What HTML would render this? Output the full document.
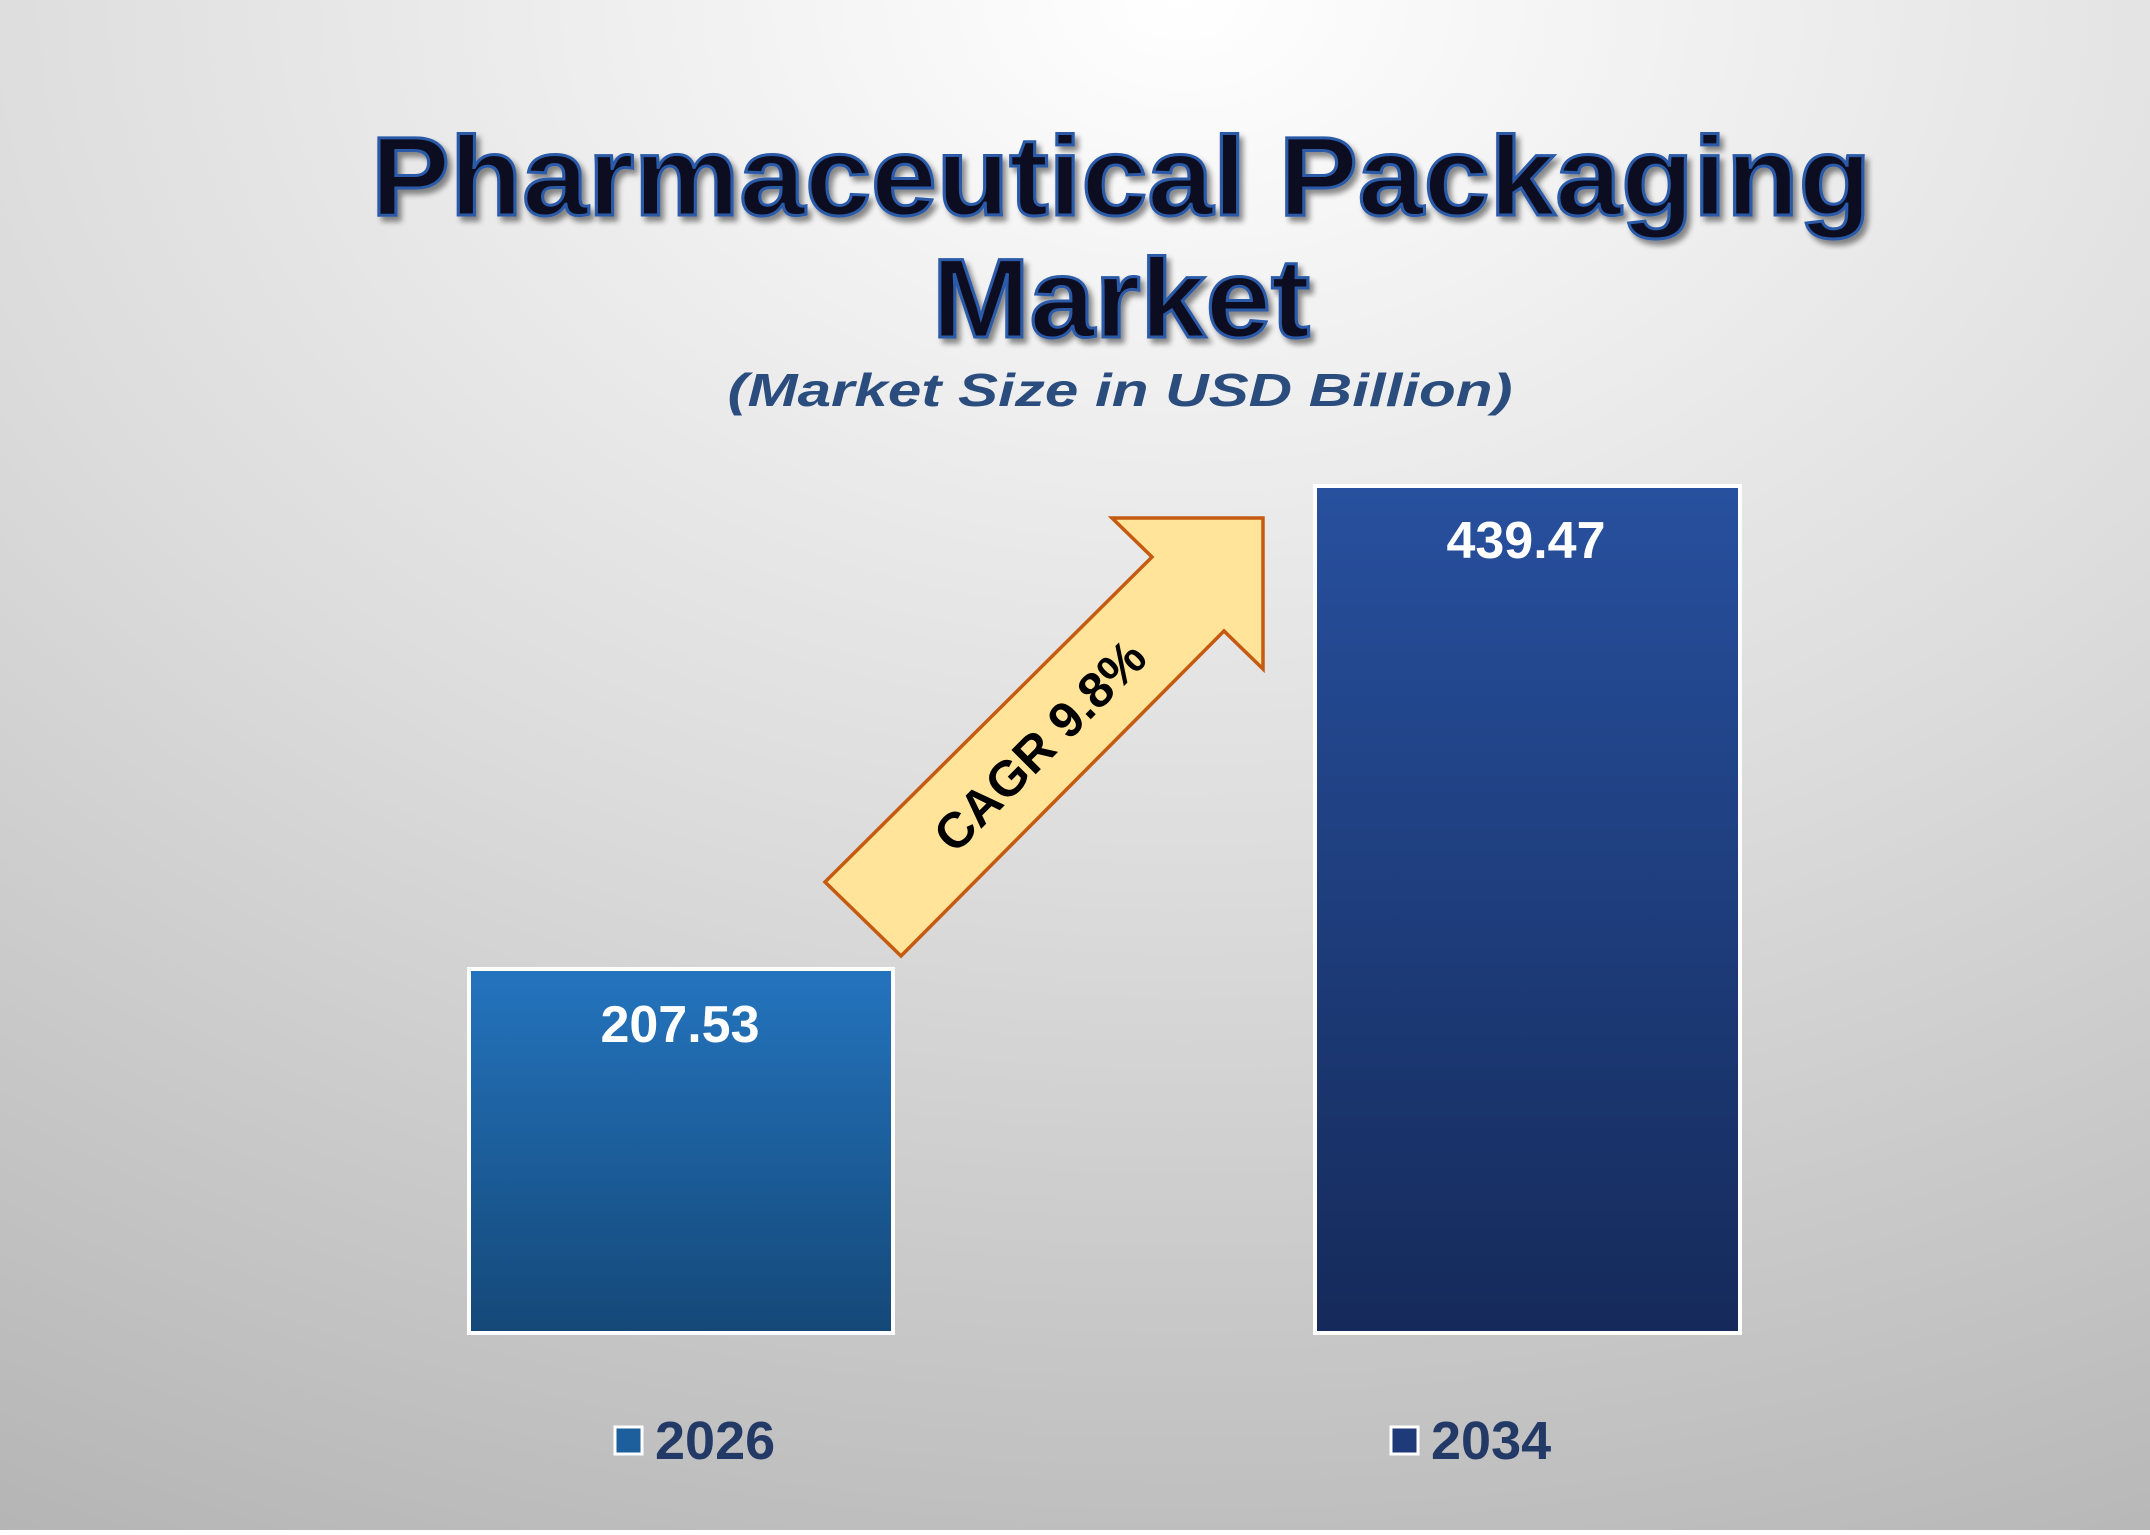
<!DOCTYPE html>
<html><head><meta charset="utf-8"><style>
html,body{margin:0;padding:0;}
body{width:2150px;height:1530px;overflow:hidden;}
</style></head><body>
<svg width="2150" height="1530" viewBox="0 0 2150 1530" xmlns="http://www.w3.org/2000/svg">
<defs>
<radialGradient id="bg" cx="0.55" cy="0" r="1.15">
<stop offset="0" stop-color="#ffffff"/>
<stop offset="0.5" stop-color="#dcdcdc"/>
<stop offset="1" stop-color="#b4b4b4"/>
</radialGradient>
<linearGradient id="b1" x1="0" y1="0" x2="0" y2="1">
<stop offset="0" stop-color="#2474be"/>
<stop offset="1" stop-color="#144878"/>
</linearGradient>
<linearGradient id="b2" x1="0" y1="0" x2="0" y2="1">
<stop offset="0" stop-color="#27509e"/>
<stop offset="1" stop-color="#152a5a"/>
</linearGradient>
<filter id="sh" x="-5%" y="-20%" width="110%" height="140%">
<feGaussianBlur in="SourceAlpha" stdDeviation="3"/>
<feOffset dx="4" dy="5" result="o"/>
<feComponentTransfer><feFuncA type="linear" slope="0.45"/></feComponentTransfer>
<feMerge><feMergeNode/><feMergeNode in="SourceGraphic"/></feMerge>
</filter>
</defs>
<rect width="2150" height="1530" fill="url(#bg)"/>
<g font-family="Liberation Sans, sans-serif" font-weight="bold" text-anchor="middle" filter="url(#sh)">
<text x="1121" y="215" font-size="112" fill="#0b0f24" stroke="#2a5aa8" stroke-width="3" textLength="1500" lengthAdjust="spacingAndGlyphs">Pharmaceutical Packaging</text>
<text x="1121" y="337" font-size="112" fill="#0b0f24" stroke="#2a5aa8" stroke-width="3" textLength="378" lengthAdjust="spacingAndGlyphs">Market</text>
</g>
<text x="1120" y="406" font-family="Liberation Sans, sans-serif" font-weight="bold" font-style="italic" font-size="46" fill="#2a4d7e" text-anchor="middle" textLength="785" lengthAdjust="spacingAndGlyphs">(Market Size in USD Billion)</text>
<rect x="469" y="969" width="424" height="364" fill="url(#b1)" stroke="#ffffff" stroke-width="4"/>
<rect x="1315" y="486" width="425" height="847" fill="url(#b2)" stroke="#ffffff" stroke-width="4"/>
<text x="680" y="1042" font-family="Liberation Sans, sans-serif" font-weight="bold" font-size="52" fill="#ffffff" text-anchor="middle">207.53</text>
<text x="1526" y="558" font-family="Liberation Sans, sans-serif" font-weight="bold" font-size="52" fill="#ffffff" text-anchor="middle">439.47</text>
<polygon points="825,882 1152,557 1112,518 1263,518 1263,669 1224,631 901,956" fill="#ffe49a" stroke="#c55a11" stroke-width="3.5" stroke-linejoin="miter"/>
<text x="0" y="0" transform="translate(1052,758) rotate(-45)" font-family="Liberation Sans, sans-serif" font-weight="bold" font-size="50" fill="#000" text-anchor="middle">CAGR 9.8%</text>
<rect x="615" y="1427" width="27" height="27" fill="#1d5e9c" stroke="#fff" stroke-width="3"/>
<text x="655" y="1459" font-family="Liberation Sans, sans-serif" font-weight="bold" font-size="54" fill="#233a66">2026</text>
<rect x="1391" y="1427" width="27" height="27" fill="#1f3a78" stroke="#fff" stroke-width="3"/>
<text x="1431" y="1459" font-family="Liberation Sans, sans-serif" font-weight="bold" font-size="54" fill="#233a66">2034</text>
</svg>
</body></html>
